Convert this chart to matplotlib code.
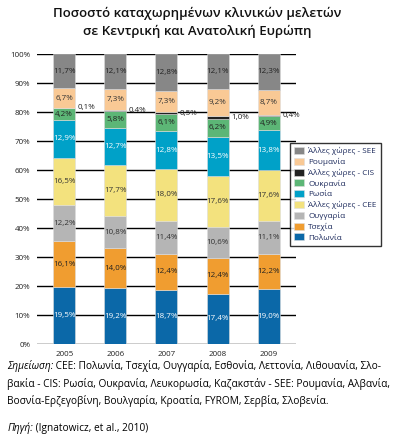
import numpy as np
import matplotlib.pyplot as plt

plt.rcParams['font.family'] = ['Open Sans', 'DejaVu Sans']

years = ['2005', '2006', '2007', '2008', '2009']
series = ['Πολωνία', 'Τσεχία', 'Ουγγαρία', 'Άλλες χώρες - CEE', 'Ρωσία',
          'Ουκρανία', 'Άλλες χώρες - CIS', 'Ρουμανία', 'Άλλες χώρες - SEE']
poland = [19.5, 19.2, 18.7, 17.4, 19.0]
czech = [16.1, 14.0, 12.4, 12.4, 12.2]
hungary = [12.2, 10.8, 11.4, 10.6, 11.1]
other_cee = [16.5, 17.7, 18.0, 17.6, 17.6]
russia = [12.9, 12.7, 12.8, 13.5, 13.8]
ukraine = [4.2, 5.8, 6.1, 6.2, 4.9]
other_cis = [0.1, 0.4, 0.5, 1.0, 0.4]
romania = [6.7, 7.3, 7.3, 9.2, 8.7]
other_see = [11.7, 12.1, 12.8, 12.1, 12.3]

values = [poland, czech, hungary, other_cee, russia, ukraine, other_cis, romania, other_see]
colors = ['#0b68a8', '#f09d30', '#b5b5b5', '#f3e27e', '#00a1c8',
          '#5cb676', '#222222', '#f9c995', '#878787']
txt_colors = ['white', '#222222', '#333333', '#333333', 'white',
              '#222222', None, '#333333', '#222222']

fig = plt.figure(figsize=(3.95, 4.47), dpi=100)
ax = fig.add_axes([0.094, 0.2304, 0.655, 0.6486])

x = np.arange(len(years))
width = 0.43
bottom = np.zeros(len(years))
for name, vals, col, tc in zip(series, values, colors, txt_colors):
    vals = np.array(vals)
    ax.bar(x, vals, width, bottom=bottom, color=col, label=name,
           edgecolor='#dddddd', linewidth=0.4, zorder=3)
    for xi, b, v in zip(x, bottom, vals):
        lab = f'{v:.1f}%'.replace('.', ',')
        if tc is None:
            ax.text(xi + width / 2 + 0.05, b + v / 2, lab, ha='left', va='center',
                    fontsize=5.8, color='#222222', zorder=4)
        else:
            ax.text(xi, b + v / 2, lab, ha='center', va='center',
                    fontsize=5.8, color=tc, zorder=4)
    bottom += vals

ax.set_xlim(-0.53, 4.53)
ax.set_ylim(0, 100)
ax.set_yticks(np.arange(0, 101, 10))
ax.set_yticklabels([f'{t}%' for t in range(0, 101, 10)])
ax.set_xticks(x)
ax.set_xticklabels(years)
ax.tick_params(length=0, labelsize=5.8, colors='#222222', pad=5)
ax.yaxis.grid(True, color='black', linewidth=1.0, zorder=0)
ax.set_axisbelow(True)
for s in ax.spines.values():
    s.set_visible(False)

handles, labels = ax.get_legend_handles_labels()
leg = ax.legend(handles[::-1], labels[::-1], loc='upper left',
                bbox_to_anchor=(0.978, 0.694), fontsize=5.9, frameon=True,
                fancybox=False, edgecolor='black', handlelength=1.2,
                handleheight=0.95, labelspacing=0.3, borderpad=0.5,
                handletextpad=0.5, borderaxespad=0)
leg.get_frame().set_linewidth(1.0)
for t in leg.get_texts():
    t.set_color('#1c2a5c')
leg.set_zorder(5)

fig.text(0.5, 0.971, 'Ποσοστό καταχωρημένων κλινικών μελετών',
         ha='center', va='center', fontsize=9.5, fontweight='semibold', color='#111111')
fig.text(0.5, 0.930, 'σε Κεντρική και Ανατολική Ευρώπη',
         ha='center', va='center', fontsize=9.5, fontweight='semibold', color='#111111')

fs = 7.3
x0 = 0.018
t1 = fig.text(x0, 0.174, 'Σημείωση:', fontsize=fs, style='italic', va='baseline')
fig.text(x0, 0.135, 'βακία - CIS: Ρωσία, Ουκρανία, Λευκορωσία, Καζακστάν - SEE: Ρουμανία, Αλβανία,',
         fontsize=fs, va='baseline')
fig.text(x0, 0.096, 'Βοσνία-Ερζεγοβίνη, Βουλγαρία, Κροατία, FYROM, Σερβία, Σλοβενία.',
         fontsize=fs, va='baseline')
t4 = fig.text(x0, 0.036, 'Πηγή:', fontsize=fs, style='italic', va='baseline')
fig.canvas.draw()
w1 = t1.get_window_extent().width / fig.bbox.width
w4 = t4.get_window_extent().width / fig.bbox.width
fig.text(x0 + w1, 0.174, ' CEE: Πολωνία, Τσεχία, Ουγγαρία, Εσθονία, Λεττονία, Λιθουανία, Σλο-',
         fontsize=fs, va='baseline')
fig.text(x0 + w4, 0.036, ' (Ignatowicz, et al., 2010)', fontsize=fs, va='baseline')

fig.savefig('out.png', dpi=100)
